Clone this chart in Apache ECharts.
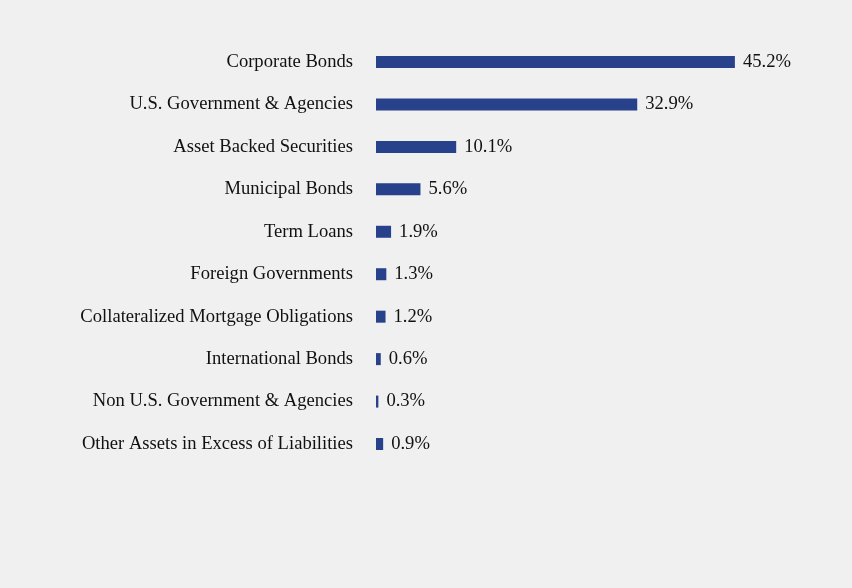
<!DOCTYPE html>
<html><head><meta charset="utf-8">
<style>html,body{margin:0;padding:0;background:#f0f0f0;}#c{width:852px;height:588px;}</style>
<script src="https://cdn.jsdelivr.net/npm/echarts@6/dist/echarts.min.js"></script>
</head><body><div id="c"></div>
<script>
const categories = ["Corporate Bonds","U.S. Government & Agencies","Asset Backed Securities","Municipal Bonds","Term Loans","Foreign Governments","Collateralized Mortgage Obligations","International Bonds","Non U.S. Government & Agencies","Other Assets in Excess of Liabilities"];
const values = [45.2,32.9,10.1,5.6,1.9,1.3,1.2,0.6,0.3,0.9];
const chart = echarts.init(document.getElementById('c'));
chart.setOption({
  backgroundColor:'#f0f0f0',
  animation:false,
  grid:{left:376,right:79,top:40.75,bottom:122.75,containLabel:false},
  xAxis:{type:'value',min:0,max:50,show:false},
  yAxis:{type:'category',data:categories,inverse:true,
    axisLine:{show:false},axisTick:{show:false},splitLine:{show:false},
    axisLabel:{margin:23,color:'#111',fontFamily:'Liberation Serif',fontSize:18.6,padding:[5,0,0,0]}},
  series:[{type:'bar',data:values,barWidth:12,itemStyle:{color:'#27418b'},
    label:{show:true,position:'right',distance:8,formatter:p=>p.value.toFixed(1)+'%',color:'#111',fontFamily:'Liberation Serif',fontSize:18.6,padding:[5,0,0,0]}}]
});
</script></body></html>
